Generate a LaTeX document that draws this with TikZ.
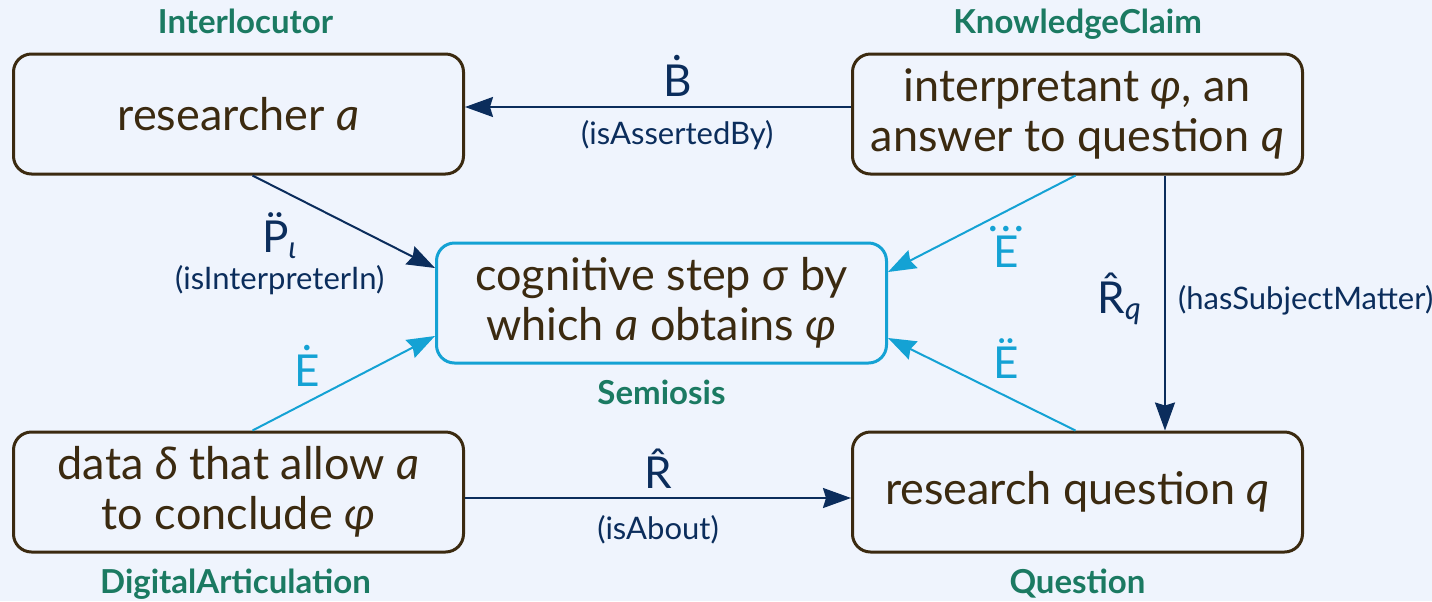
\documentclass[tikz,border=0pt]{standalone}
\usepackage{fontspec}
\setmainfont{Lato}
\usetikzlibrary{arrows.meta, positioning}
\definecolor{canvas}{HTML}{EFF4FD}
\definecolor{boxline}{HTML}{3B2A10}
\definecolor{classgreen}{HTML}{1B7A62}
\definecolor{navy}{HTML}{0B2D5C}
\definecolor{skyline}{HTML}{14A2D4}

% accent set over a capital letter
\newcommand{\overmark}[2]{\leavevmode\setbox0\hbox{#2}%
  \rlap{\hbox to\wd0{\hss\raisebox{0.2em}{#1}\hss}}\box0}

\tikzset{
  entity/.style={draw=boxline, line width=1.5pt, rounded corners=9pt,
    minimum width=225pt, minimum height=60pt, align=center, text=boxline,
    font=\fontsize{22.5}{25}\selectfont},
  semiosisbox/.style={entity, draw=skyline},
  classlabel/.style={text=classgreen, font=\bfseries\fontsize{16.5}{18}\selectfont,
    text height=12pt, text depth=4pt},
  relation/.style={navy, line width=1pt, -{Stealth[length=14pt,width=10pt,inset=1.5pt]}},
  evidence/.style={relation, skyline},
  relsymbol/.style={font=\fontsize{22}{24}\selectfont},
  relname/.style={font=\fontsize{15.5}{18.5}\selectfont}
}

\begin{document}
\begin{tikzpicture}[x=0.5pt, y=-0.5pt]
  \useasboundingbox (0,0) rectangle (1432,601);
  \fill[canvas] (0,0) rectangle (1432,601);

  % the five entities
  \node[entity] (res) at (238.5,114) {researcher \textit{a}};
  \node[entity] (kc) at (1077.5,114) {interpretant \textit{φ}, an\\answer to question \textit{q}};
  \node[semiosisbox] (sem) at (661.5,303) {cognitive step \textit{σ} by\\which \textit{a} obtains \textit{φ}};
  \node[entity] (data) at (238.5,492) {data \textit{δ} that allow \textit{a}\\to conclude \textit{φ}};
  \node[entity] (quest) at (1077.5,492) {research question \textit{q}};

  % class names
  \node[classlabel, above=2pt of res, xshift=3.5pt] (interlocutor) {Interlocutor};
  \node[classlabel, above=2pt of kc] (knowledgeclaim) {KnowledgeClaim};
  \node[classlabel, below=4.5pt of sem] (semiosis) {Semiosis};
  \node[classlabel, below=4.5pt of data, xshift=-1.5pt] (articulation) {DigitalArticulation};
  \node[classlabel, below=4.5pt of quest] (question) {Question};

  % relations
  \draw[relation] ([yshift=3.5pt]kc.west) --
    node[pos=0.45, above=1.5pt, relsymbol] {\overmark{˙}{B}}
    node[pos=0.45, below=3pt, relname] {(isAssertedBy)}
    ([yshift=3.5pt]res.east);
  \draw[relation] ([xshift=7pt]res.south) --
    node[midway, anchor=north, xshift=-32pt, yshift=8.5pt, relname, align=center]
      {{\fontsize{22}{18.5}\selectfont\overmark{¨}{P}\textsubscript{\textit{ι}}}\\(isInterpreterIn)}
    ([yshift=17.5pt]sem.west);
  \draw[relation] ([xshift=43.75pt]kc.south) --
    node[midway, left=7.7pt, yshift=2pt, relsymbol] {\overmark{ˆ}{R}\textsubscript{\textit{q}}}
    node[midway, right=2.7pt, yshift=1.5pt, relname] {(hasSubjectMatter)}
    ([xshift=43.75pt]quest.north);
  \draw[relation] ([yshift=-3pt]data.east) --
    node[midway, above=0.7pt, relsymbol] {\overmark{ˆ}{R}}
    node[midway, below=5pt, relname] {(isAbout)}
    ([yshift=-3pt]quest.west);

  % evidence arrows into the cognitive step
  \draw[evidence] ([xshift=7pt]data.north) --
    node[pos=0.3, above=4.2pt, relsymbol] {\overmark{˙}{E}}
    ([yshift=-16.5pt]sem.west);
  \draw[evidence] ([xshift=-1pt]kc.south) --
    node[pos=0.37, below=3.7pt, relsymbol] {\overmark{˙\kern-0.1em˙\kern-0.1em˙}{E}}
    ([yshift=15.5pt]sem.east);
  \draw[evidence] ([xshift=-1pt]quest.north) --
    node[pos=0.37, above=5.2pt, relsymbol] {\overmark{¨}{E}}
    ([yshift=-17.5pt]sem.east);
\end{tikzpicture}
\end{document}
